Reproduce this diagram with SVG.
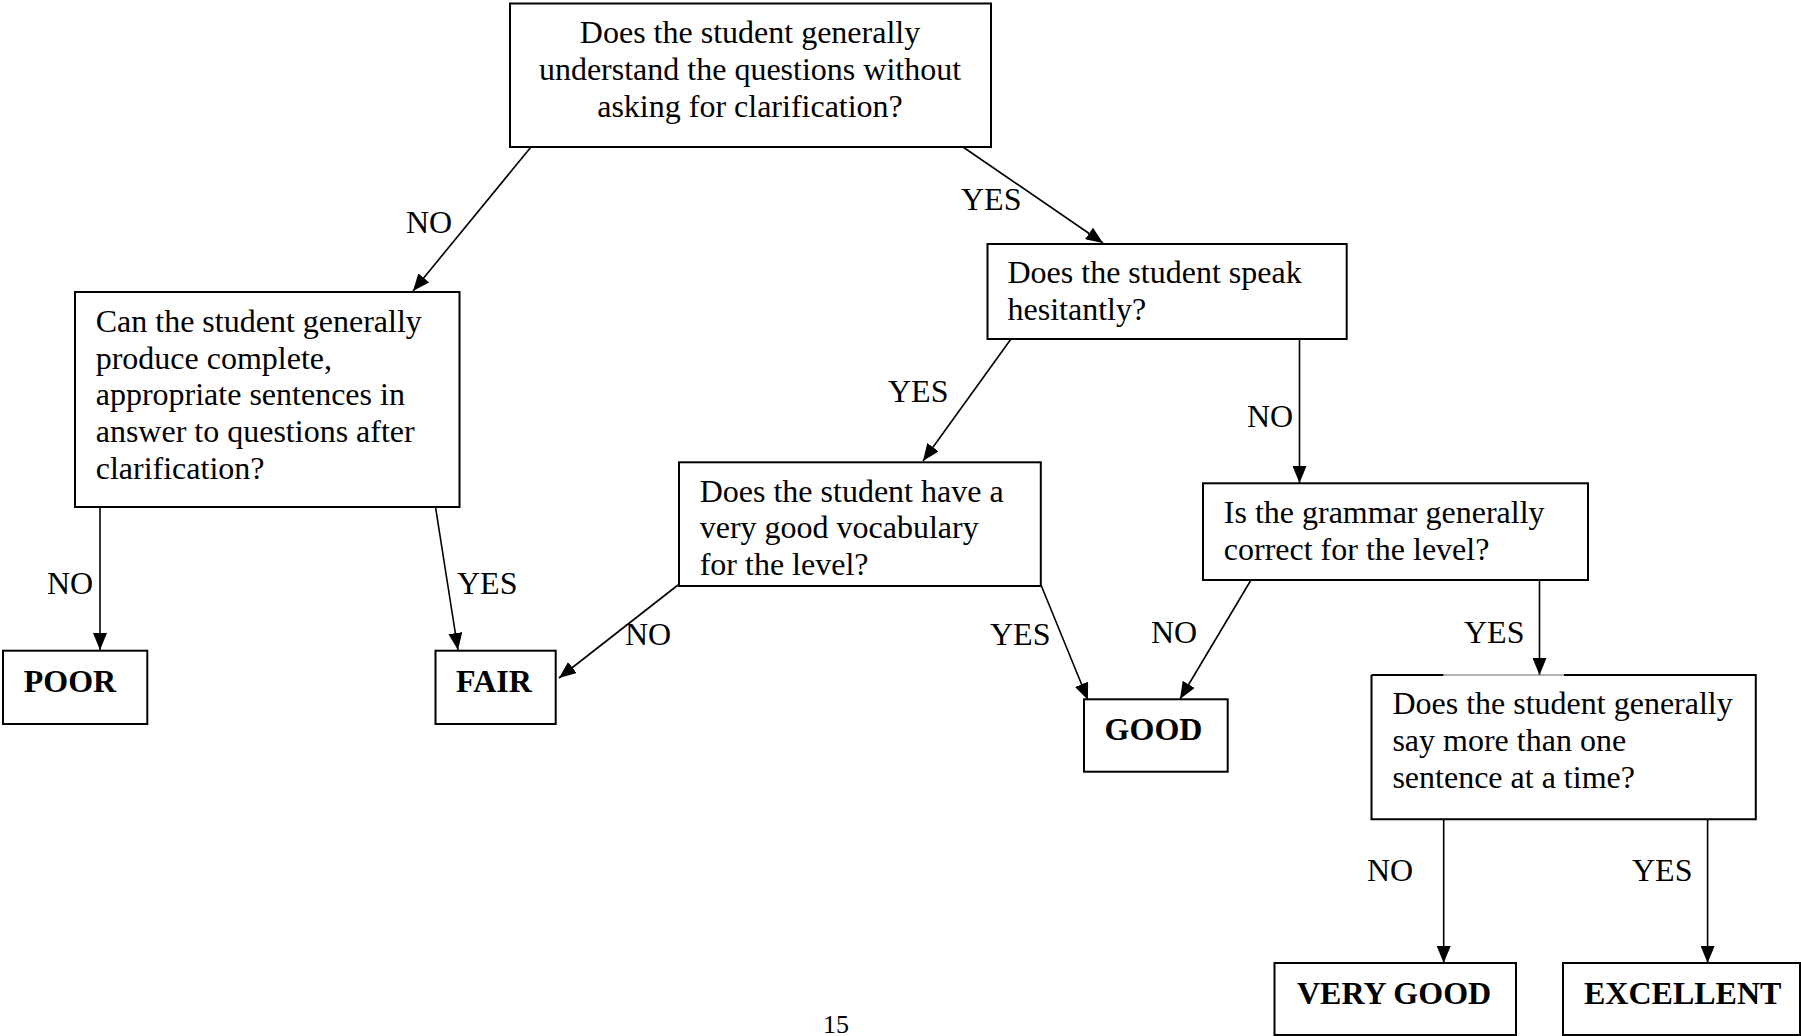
<svg xmlns="http://www.w3.org/2000/svg" width="1801" height="1036" viewBox="0 0 1801 1036">
  <style>
    .box { fill: #ffffff; stroke: #000000; stroke-width: 2; }
    .t { font-family: "Liberation Serif", "Times New Roman", serif; font-size: 32px; fill: #000000; }
    .b { font-family: "Liberation Serif", "Times New Roman", serif; font-size: 32px; font-weight: bold; fill: #000000; }
    .lbl { font-family: "Liberation Serif", "Times New Roman", serif; font-size: 32px; fill: #000000; }
    .c { stroke: #000000; stroke-width: 1.6; fill: none; marker-end: url(#arr); }
  </style>
  <defs>
    <marker id="arr" markerUnits="userSpaceOnUse" markerWidth="18" markerHeight="14" refX="17" refY="7" orient="auto">
      <path d="M0,0 L17,7 L0,14 z" fill="#000000"/>
    </marker>
  </defs>
  <rect width="1801" height="1036" fill="#ffffff"/>

  <g id="connectors">
    <line class="c" x1="531" y1="147" x2="413" y2="291"/>
    <line class="c" x1="963" y1="147" x2="1103" y2="243"/>
    <line class="c" x1="100" y1="507" x2="100" y2="650"/>
    <line class="c" x1="435.5" y1="507" x2="458" y2="650"/>
    <line class="c" x1="1011" y1="339" x2="923" y2="461"/>
    <line class="c" x1="1299.5" y1="339" x2="1299.5" y2="483"/>
    <line class="c" x1="678" y1="585" x2="559" y2="678"/>
    <line class="c" x1="1041" y1="585" x2="1088" y2="700"/>
    <line class="c" x1="1251" y1="580" x2="1180" y2="699"/>
    <line class="c" x1="1539.5" y1="580" x2="1539.5" y2="675"/>
    <line class="c" x1="1443.7" y1="819" x2="1443.7" y2="963"/>
    <line class="c" x1="1707.6" y1="819" x2="1707.6" y2="963"/>
    <text class="lbl" x="406" y="233">NO</text>
    <text class="lbl" x="961" y="210">YES</text>
    <text class="lbl" x="47" y="594">NO</text>
    <text class="lbl" x="457" y="594">YES</text>
    <text class="lbl" x="888" y="402">YES</text>
    <text class="lbl" x="1247" y="427">NO</text>
    <text class="lbl" x="625" y="645">NO</text>
    <text class="lbl" x="990" y="645">YES</text>
    <text class="lbl" x="1151" y="643">NO</text>
    <text class="lbl" x="1464" y="643">YES</text>
    <text class="lbl" x="1367" y="881">NO</text>
    <text class="lbl" x="1632" y="881">YES</text>
  </g>

  <g id="q-understand">
    <rect class="box" x="510" y="3.5" width="481" height="143.5"/>
    <text class="t" x="750" y="43.3" text-anchor="middle">Does the student generally</text>
    <text class="t" x="750" y="80" text-anchor="middle">understand the questions without</text>
    <text class="t" x="750" y="116.7" text-anchor="middle">asking for clarification?</text>
  </g>

  <g id="q-produce">
    <rect class="box" x="75" y="292" width="384.5" height="215"/>
    <text class="t" x="95.7" y="331.7">Can the student generally</text>
    <text class="t" x="95.7" y="368.5">produce complete,</text>
    <text class="t" x="95.7" y="405.3">appropriate sentences in</text>
    <text class="t" x="95.7" y="442">answer to questions after</text>
    <text class="t" x="95.7" y="478.8">clarification?</text>
  </g>

  <g id="q-hesitant">
    <rect class="box" x="987.5" y="244" width="359.2" height="95"/>
    <text class="t" x="1007.5" y="283.3">Does the student speak</text>
    <text class="t" x="1007.5" y="320">hesitantly?</text>
  </g>

  <g id="q-vocabulary">
    <rect class="box" x="679" y="462.3" width="361.8" height="123.7"/>
    <text class="t" x="699.7" y="501.7">Does the student have a</text>
    <text class="t" x="699.7" y="538.3">very good vocabulary</text>
    <text class="t" x="699.7" y="575">for the level?</text>
  </g>

  <g id="q-grammar">
    <rect class="box" x="1203" y="483.3" width="385" height="96.7"/>
    <text class="t" x="1223.8" y="523.3">Is the grammar generally</text>
    <text class="t" x="1223.8" y="560">correct for the level?</text>
  </g>

  <g id="q-sentences">
    <path d="M1371.5,675 L1371.5,819.3 L1755.8,819.3 L1755.8,675 L1564,675 M1443.5,675 L1371.5,675" fill="#ffffff" stroke="#000000" stroke-width="2"/>
    <line x1="1443.5" y1="675" x2="1564" y2="675" stroke="#666666" stroke-width="1"/>
    <text class="t" x="1392.4" y="714">Does the student generally</text>
    <text class="t" x="1392.4" y="751">say more than one</text>
    <text class="t" x="1392.4" y="788">sentence at a time?</text>
  </g>

  <g id="r-poor">
    <rect class="box" x="3" y="650.7" width="144.3" height="73.3"/>
    <text class="b" x="23.7" y="691.7">POOR</text>
  </g>

  <g id="r-fair">
    <rect class="box" x="435.5" y="650.7" width="120.2" height="73.3"/>
    <text class="b" x="456" y="691.7">FAIR</text>
  </g>

  <g id="r-good">
    <rect class="box" x="1084" y="699.3" width="143.7" height="72.4"/>
    <text class="b" x="1104.6" y="740">GOOD</text>
  </g>

  <g id="r-verygood">
    <rect class="box" x="1274.5" y="963" width="241.5" height="72"/>
    <text class="b" x="1297" y="1004">VERY GOOD</text>
  </g>

  <g id="r-excellent">
    <rect class="box" x="1563" y="963" width="237" height="72"/>
    <text class="b" x="1584" y="1004">EXCELLENT</text>
  </g>

  <text x="836" y="1033" text-anchor="middle" font-family="Liberation Serif, Times New Roman, serif" font-size="26" fill="#000000">15</text>
</svg>
